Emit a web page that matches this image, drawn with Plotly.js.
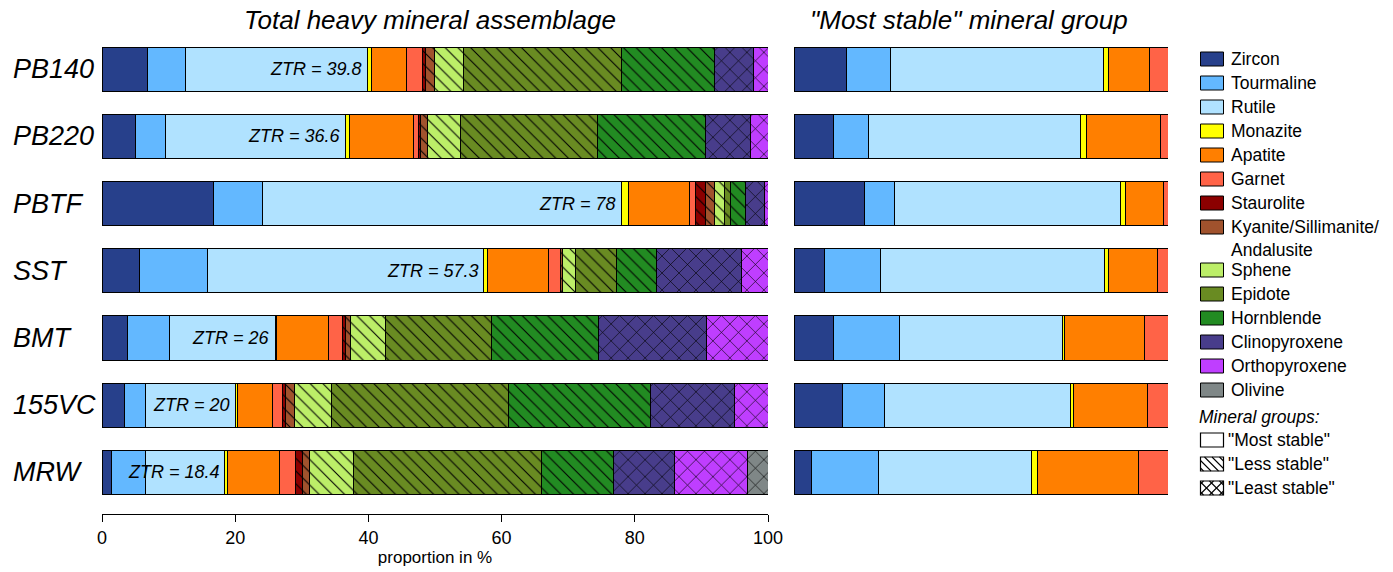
<!DOCTYPE html>
<html>
<head>
<meta charset="utf-8">
<script src="https://cdn.plot.ly/plotly-3.0.1.min.js"></script>
<style>html,body{margin:0;padding:0;background:#fff;}#chart{width:1393px;height:572px;}</style>
</head>
<body>
<div id="chart"></div>
<script>
// ---- data (percent) ----
const samples = ['PB140','PB220','PBTF','SST','BMT','155VC','MRW'];
const ztr = [39.8, 36.6, 78, 57.3, 26, 20, 18.4];

const zircon        = [6.8, 5.1, 16.8, 5.6, 3.8, 3.4, 1.4];
const tourmaline    = [5.7, 4.5, 7.3, 10.3, 6.4, 3.2, 5.2];
const rutile        = [27.3, 27.0, 53.9, 41.4, 15.8, 13.4, 11.8];
const monazite      = [0.7, 0.6, 1.0, 0.6, 0.2, 0.3, 0.5];
const apatite       = [5.2, 9.6, 9.2, 9.2, 7.8, 5.3, 7.8];
const garnet        = [2.35, 0.7, 0.9, 1.7, 2.1, 1.5, 2.3];
const staurolite    = [0.5, 0.3, 1.5, 0, 0.4, 0.4, 1.1];
const kyanite       = [1.3, 1.1, 1.3, 0.3, 0.8, 1.4, 1.1];
const sphene        = [4.4, 4.9, 1.5, 2.0, 5.3, 5.5, 6.6];
const epidote       = [23.7, 20.6, 0.9, 6.2, 15.9, 26.6, 28.2];
const hornblende    = [14.0, 16.2, 2.3, 6.0, 16.0, 21.3, 10.8];
const clinopyroxene = [5.9, 6.7, 2.8, 12.7, 16.2, 12.7, 9.1];
const orthopyroxene = [2.15, 2.7, 0.6, 4.0, 9.3, 5.0, 11.0];
const olivine       = [0, 0, 0, 0, 0, 0, 3.1];

// "most stable" group (percent of group)
const stZircon     = [14.1, 10.5, 18.8, 8.1, 10.5, 12.9, 4.6];
const stTourmaline = [11.8, 9.5, 8.2, 14.9, 17.7, 11.2, 17.9];
const stRutile     = [56.9, 56.7, 60.4, 60.0, 43.6, 49.9, 41.0];
const stMonazite   = [1.3, 1.4, 1.3, 1.1, 0.5, 0.8, 1.6];
const stApatite    = [10.9, 20.0, 10.2, 13.1, 21.4, 19.8, 26.9];
const stGarnet     = [5.0, 1.9, 1.1, 2.8, 6.3, 5.4, 8.0];

const mineralNames = ['Zircon','Tourmaline','Rutile','Monazite','Apatite','Garnet','Staurolite',
  'Kyanite/Sillimanite/<br>Andalusite','Sphene','Epidote','Hornblende','Clinopyroxene','Orthopyroxene','Olivine'];
const xTicks = [0, 20, 40, 60, 80, 100];

// ---- styling ----
const colors = ['#27408B','#63B8FF','#B0E2FF','#FFFF00','#FF7F00','#FF6347','#8B0000',
  '#A0522D','#BCEE68','#698B22','#228B22','#483D8B','#BF3EFF','#7F8787'];
const groups = ['','','','','','','\\','\\','\\','\\','\\','x','x','x'];
const totals = [zircon,tourmaline,rutile,monazite,apatite,garnet,staurolite,kyanite,sphene,
  epidote,hornblende,clinopyroxene,orthopyroxene,olivine];
const stable = [stZircon,stTourmaline,stRutile,stMonazite,stApatite,stGarnet];

const W = 1393, H = 572;
const px = v => v / W;
const py = v => 1 - v / H;
const FONT = 'Liberation Sans, Arial, Helvetica, sans-serif';
const BARW = 0.655;

const traces = [];
totals.forEach((vals, i) => {
  const t = {
    type: 'bar', orientation: 'h', x: vals, y: samples, xaxis: 'x', yaxis: 'y',
    name: mineralNames[i], width: BARW, showlegend: false, hoverinfo: 'x+name',
    marker: {color: colors[i], line: {color: '#000', width: 1}}
  };
  if (groups[i]) {
    t.marker.pattern = {shape: groups[i], fgcolor: '#000', bgcolor: colors[i], fillmode: 'replace',
      size: groups[i] === 'x' ? 12 : 9, solidity: groups[i] === 'x' ? 0.1 : 0.12};
  }
  traces.push(t);
});
stable.forEach((vals, i) => {
  traces.push({
    type: 'bar', orientation: 'h', x: vals, y: samples, xaxis: 'x2', yaxis: 'y',
    name: mineralNames[i], width: BARW, showlegend: false, hoverinfo: 'x+name',
    marker: {color: colors[i], line: {color: '#000', width: 1}}
  });
});

const annotations = [];
// sample labels
samples.forEach(s => {
  annotations.push({xref: 'paper', yref: 'y', x: px(11), y: s, xanchor: 'left', yanchor: 'middle',
    text: '<i>' + s + '</i>', showarrow: false, font: {family: FONT, size: 27, color: '#000'}});
});
// ZTR labels
samples.forEach((s, i) => {
  annotations.push({xref: 'x', yref: 'y', x: ztr[i], y: s, xanchor: 'right', yanchor: 'middle', xshift: -3,
    text: '<i>ZTR = ' + ztr[i] + '</i>', showarrow: false, font: {family: FONT, size: 18, color: '#000'}});
});
// titles
annotations.push({xref: 'paper', yref: 'paper', x: px(430), y: py(20), xanchor: 'center', yanchor: 'middle',
  text: '<i>Total heavy mineral assemblage</i>', showarrow: false, font: {family: FONT, size: 26, color: '#000'}});
annotations.push({xref: 'paper', yref: 'paper', x: px(969), y: py(20), xanchor: 'center', yanchor: 'middle',
  text: '<i>"Most stable" mineral group</i>', showarrow: false, font: {family: FONT, size: 26, color: '#000'}});

// manual legend
const shapes = [];
const legX0 = 1200.5, legX1 = 1223.5, boxH = 14, textX = 1229;
const legRows = [59, 83, 107, 131, 155, 179, 203, 227, 270, 294, 318, 342, 366, 390];
const legLabels = ['Zircon','Tourmaline','Rutile','Monazite','Apatite','Garnet','Staurolite',
  'Kyanite/Sillimanite/','Sphene','Epidote','Hornblende','Clinopyroxene','Orthopyroxene','Olivine'];
const LEGFONT = {family: FONT, size: 17.5, color: '#000'};
legRows.forEach((yc, i) => {
  shapes.push({type: 'rect', xref: 'paper', yref: 'paper', x0: px(legX0), x1: px(legX1),
    y0: py(yc + boxH / 2), y1: py(yc - boxH / 2), fillcolor: colors[i], line: {color: '#000', width: 1}});
  annotations.push({xref: 'paper', yref: 'paper', x: px(textX), y: py(yc), xanchor: 'left', yanchor: 'middle',
    text: legLabels[i], showarrow: false, font: LEGFONT});
});
annotations.push({xref: 'paper', yref: 'paper', x: px(textX), y: py(250), xanchor: 'left', yanchor: 'middle',
  text: 'Andalusite', showarrow: false, font: LEGFONT});
annotations.push({xref: 'paper', yref: 'paper', x: px(1197), y: py(417), xanchor: 'left', yanchor: 'middle',
  text: '<i>Mineral groups:</i>', showarrow: false, font: LEGFONT});
const grpRows = [440, 464, 488];
const grpLabels = ['"Most stable"', '"Less stable"', '"Least stable"'];
grpRows.forEach((yc, i) => {
  const top = yc - boxH / 2, bot = yc + boxH / 2;
  shapes.push({type: 'rect', xref: 'paper', yref: 'paper', x0: px(legX0), x1: px(legX1),
    y0: py(bot), y1: py(top), fillcolor: '#fff', line: {color: '#000', width: 1.2}});
  annotations.push({xref: 'paper', yref: 'paper', x: px(textX - 3), y: py(yc), xanchor: 'left', yanchor: 'middle',
    text: grpLabels[i], showarrow: false, font: LEGFONT});
  const dirs = i === 1 ? [1] : (i === 2 ? [1, -1] : []);
  const step = i === 2 ? 10 : 7.5;
  dirs.forEach(dir => {
    for (let d = -boxH + 3; d < (legX1 - legX0); d += step) {
      let t0 = Math.max(0, -d), t1 = Math.min(boxH, (legX1 - legX0) - d);
      if (t1 <= t0) continue;
      const xa = legX0 + d + t0, xb = legX0 + d + t1;
      const ya = dir === 1 ? top + t0 : bot - t0;
      const yb = dir === 1 ? top + t1 : bot - t1;
      shapes.push({type: 'line', xref: 'paper', yref: 'paper', x0: px(xa), y0: py(ya), x1: px(xb), y1: py(yb),
        line: {color: '#000', width: 1.1}});
    }
  });
});

const yTop = 35.4, yBot = 514;
const layout = {
  width: W, height: H,
  margin: {l: 0, r: 0, t: 0, b: 0, pad: 0},
  paper_bgcolor: '#fff', plot_bgcolor: 'rgba(0,0,0,0)',
  barmode: 'stack', bargap: 0,
  showlegend: false,
  font: {family: FONT, color: '#000'},
  xaxis: {domain: [px(102), px(768)], range: [0, 100], showgrid: false, zeroline: false,
    showline: true, linecolor: '#000', linewidth: 1, ticks: 'outside', ticklen: 7, tickwidth: 1, tickcolor: '#000',
    tickmode: 'array', tickvals: xTicks, ticktext: xTicks.map(String),
    tickfont: {family: FONT, size: 18, color: '#000'},
    title: {text: 'proportion in %', font: {family: FONT, size: 17, color: '#000'}, standoff: 4}},
  xaxis2: {domain: [px(794), px(1168)], range: [0, 100], anchor: 'y', visible: false, showgrid: false, zeroline: false},
  yaxis: {domain: [py(yBot), py(yTop)], type: 'category', categoryorder: 'array', categoryarray: samples,
    range: [6.5 + (yBot - 506.1) / 67.23, -0.5], showticklabels: false, showgrid: false, zeroline: false,
    showline: false, ticks: ''},
  annotations: annotations,
  shapes: shapes
};

Plotly.newPlot('chart', traces, layout, {displayModeBar: false, staticPlot: true});
</script>
</body>
</html>
